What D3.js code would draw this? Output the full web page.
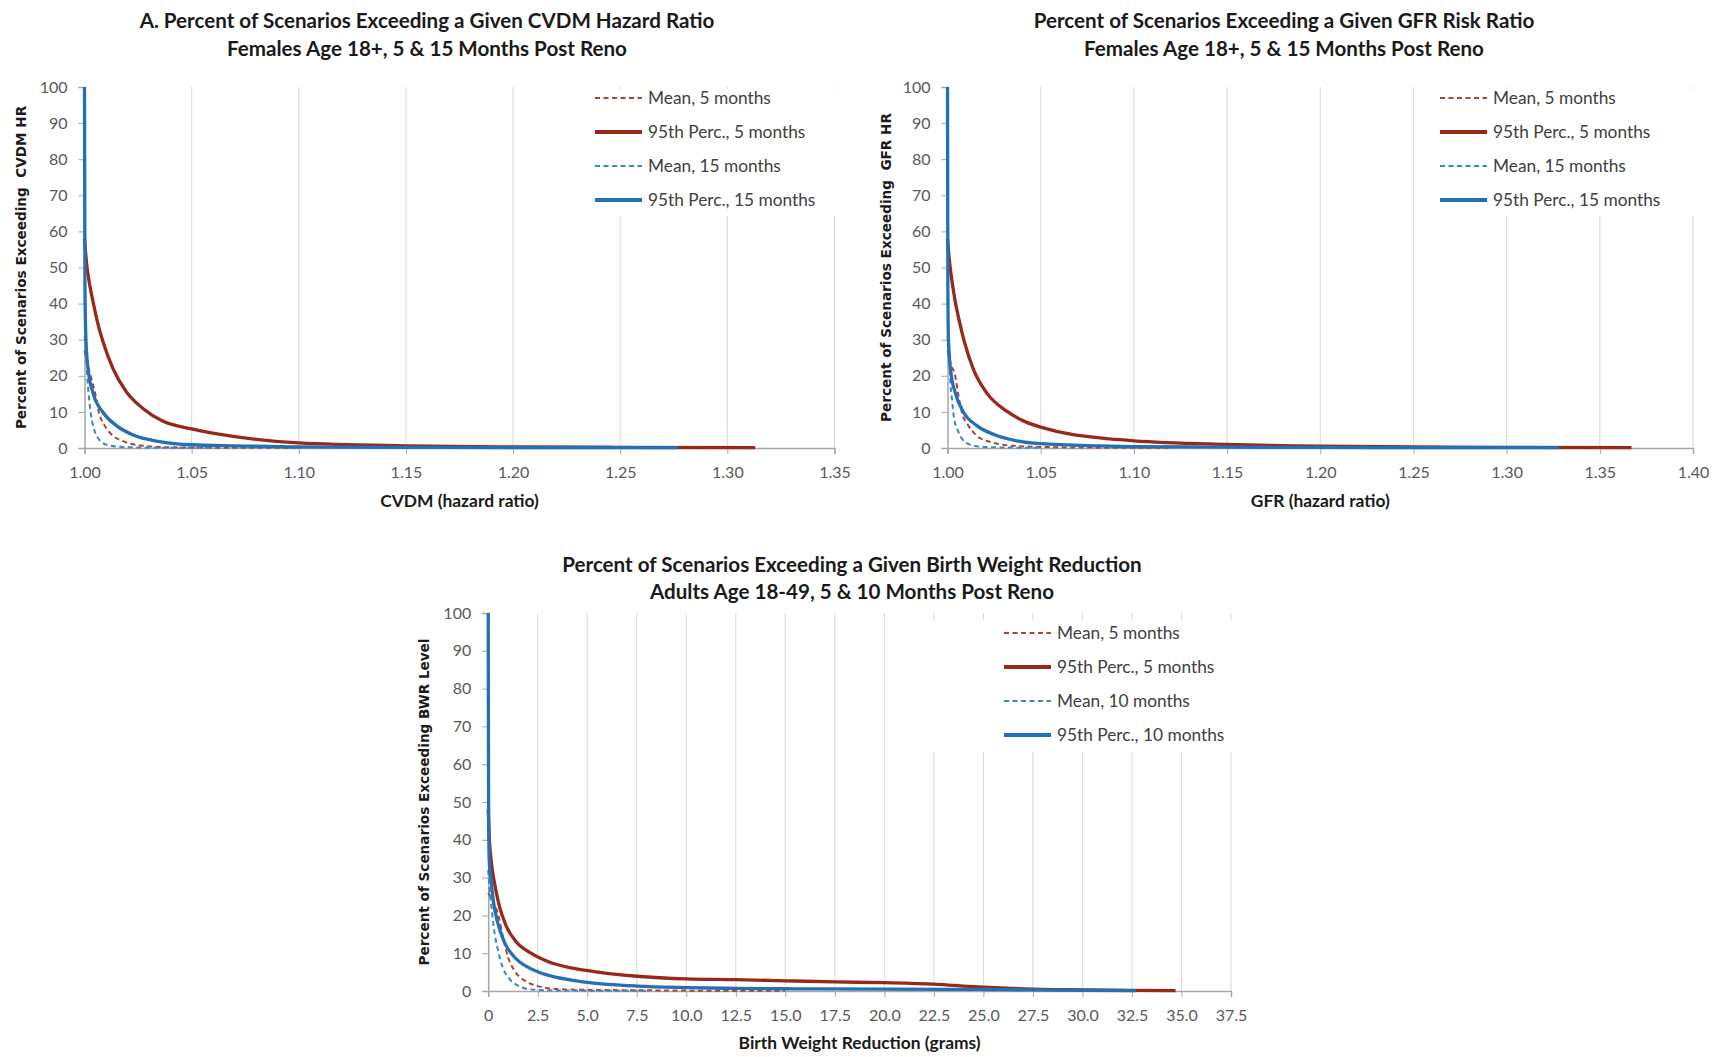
<!DOCTYPE html>
<html><head><meta charset="utf-8">
<script src="https://cdn.jsdelivr.net/npm/d3@7"></script>
<style>
body{margin:0;background:#fff;}
svg{display:block;}
text{white-space:pre;}
</style>
</head><body><svg id="c" width="1713" height="1057"></svg>
<script>
// ---------------- DATA ----------------
// Panel A: CVDM hazard ratio
const titleA = ["A. Percent of Scenarios Exceeding a Given CVDM Hazard Ratio", "Females Age 18+, 5 & 15 Months Post Reno"];
const xTicksA = [1.00, 1.05, 1.10, 1.15, 1.20, 1.25, 1.30, 1.35];
const legendA = ["Mean, 5 months", "95th Perc., 5 months", "Mean, 15 months", "95th Perc., 15 months"];
const A_mean5_x = [1.0, 1.0015, 1.0031, 1.0052, 1.0067, 1.0094, 1.0133, 1.018, 1.0274, 1.04, 1.06, 1.10];
const A_mean5_y = [27, 23, 19.5, 14.5, 9.9, 6.2, 3.4, 1.9, 0.6, 0.2, 0.1, 0.05];
const A_p95_5_x = [1.0, 1.001, 1.0022, 1.004, 1.006, 1.0086, 1.0133, 1.0195, 1.0274, 1.0367, 1.05, 1.071, 1.10, 1.15, 1.20, 1.25, 1.313];
const A_p95_5_y = [58, 51, 46, 40.5, 35, 29.5, 22, 15.6, 10.9, 7.4, 5.3, 3.1, 1.4, 0.6, 0.3, 0.2, 0.1];
const A_mean15_x = [1.0, 1.0007, 1.0013, 1.002, 1.0031, 1.0047, 1.007, 1.011, 1.018, 1.03, 1.06];
const A_mean15_y = [31, 28.3, 20, 14.5, 8.9, 4.8, 2.2, 0.8, 0.3, 0.1, 0.05];
const A_p95_15_x = [1.0, 1.0002, 1.0007, 1.0017, 1.0039, 1.0086, 1.0149, 1.0227, 1.035, 1.05, 1.071, 1.10, 1.15, 1.20, 1.277];
const A_p95_15_y = [100, 45, 29.5, 21.8, 15.4, 9.9, 6.2, 3.6, 1.8, 0.9, 0.6, 0.3, 0.2, 0.1, 0.1];

// Panel B: GFR risk ratio
const titleB = ["Percent of Scenarios Exceeding a Given GFR Risk Ratio", "Females Age 18+, 5 & 15 Months Post Reno"];
const xTicksB = [1.00, 1.05, 1.10, 1.15, 1.20, 1.25, 1.30, 1.35, 1.40];
const legendB = ["Mean, 5 months", "95th Perc., 5 months", "Mean, 15 months", "95th Perc., 15 months"];
const B_mean5_x = [1.0, 1.002, 1.0041, 1.0059, 1.0077, 1.0112, 1.0157, 1.0229, 1.0353, 1.05, 1.08, 1.12];
const B_mean5_y = [27, 23, 20, 14.5, 9.9, 6.2, 3.4, 1.7, 0.6, 0.3, 0.1, 0.05];
const B_p95_5_x = [1.0, 1.001, 1.0022, 1.004, 1.0062, 1.009, 1.0139, 1.0211, 1.0318, 1.0425, 1.05, 1.0675, 1.0817, 1.10, 1.15, 1.20, 1.25, 1.30, 1.367];
const B_p95_5_y = [58, 52, 47, 41, 35.5, 29.5, 21.8, 15.2, 10.2, 7.1, 5.8, 3.7, 2.8, 2.0, 1.0, 0.5, 0.3, 0.2, 0.1];
const B_mean15_x = [1.0, 1.0009, 1.0014, 1.0024, 1.0036, 1.0059, 1.0095, 1.0157, 1.025, 1.05];
const B_mean15_y = [31, 28.3, 20, 13.5, 8.0, 4.4, 1.6, 0.5, 0.2, 0.05];
const B_p95_15_x = [1.0, 1.0002, 1.0005, 1.0018, 1.0041, 1.0086, 1.0157, 1.0246, 1.0371, 1.05, 1.0817, 1.10, 1.15, 1.20, 1.25, 1.328];
const B_p95_15_y = [100, 45, 30, 21, 15.4, 9.9, 6.2, 3.8, 2.0, 1.2, 0.6, 0.4, 0.25, 0.15, 0.1, 0.1];

// Panel C: Birth weight reduction
const titleC = ["Percent of Scenarios Exceeding a Given Birth Weight Reduction", "Adults Age 18-49, 5 & 10 Months Post Reno"];
const xTicksC = [0, 2.5, 5.0, 7.5, 10.0, 12.5, 15.0, 17.5, 20.0, 22.5, 25.0, 27.5, 30.0, 32.5, 35.0, 37.5];
const xTickLabelsC = ["0", "2.5", "5.0", "7.5", "10.0", "12.5", "15.0", "17.5", "20.0", "22.5", "25.0", "27.5", "30.0", "32.5", "35.0", "37.5"];
const legendC = ["Mean, 5 months", "95th Perc., 5 months", "Mean, 10 months", "95th Perc., 10 months"];
const C_mean5_x = [0, 0.3, 0.48, 0.73, 0.98, 1.32, 1.82, 2.5, 3.5, 5, 7.5, 10, 15];
const C_mean5_y = [26, 23, 20.7, 14.6, 9.3, 5.4, 2.8, 1.3, 0.5, 0.3, 0.2, 0.1, 0.05];
const C_p95_5_x = [0, 0.06, 0.16, 0.32, 0.56, 0.90, 1.40, 2.16, 3.01, 4.19, 5.54, 7.5, 10, 12.5, 15, 17.5, 20, 22.5, 23.7, 25, 27.5, 30, 32.5, 34.7];
const C_p95_5_y = [48, 40, 34, 28.5, 22.5, 17.3, 13.1, 10.0, 7.8, 6.1, 5.0, 3.9, 3.2, 3.0, 2.7, 2.4, 2.2, 1.8, 1.4, 1.0, 0.5, 0.3, 0.15, 0.1];
const C_mean10_x = [0, 0.05, 0.14, 0.27, 0.48, 0.73, 1.07, 1.49, 2.0, 3, 5, 8];
const C_mean10_y = [32, 28, 23.4, 17.2, 11.1, 6.3, 3.2, 1.5, 0.5, 0.2, 0.1, 0.05];
const C_p95_10_x = [0, 0.02, 0.05, 0.14, 0.27, 0.48, 0.81, 1.32, 2.0, 2.5, 3.0, 4.19, 5.0, 7.5, 10, 12.5, 15, 20, 25, 27.5, 30, 32.7];
const C_p95_10_y = [100, 50, 34.7, 29.5, 23.4, 18.1, 13.0, 9.0, 6.3, 5.1, 4.2, 2.9, 2.3, 1.3, 0.9, 0.7, 0.6, 0.5, 0.4, 0.3, 0.2, 0.1];

const yTicks = [0, 10, 20, 30, 40, 50, 60, 70, 80, 90, 100];

// ---------------- STYLE / LAYOUT ----------------
const seriesStyle = [
  {color: "#B04232", width: 2, dash: "5,3.5"},
  {color: "#98281A", width: 3.3, dash: null},
  {color: "#3F86C6", width: 2, dash: "5,3.5"},
  {color: "#2270B5", width: 3.3, dash: null}
];
const zip = (xs, ys) => xs.map((v, i) => [v, ys[i]]);

const panels = [
  {
    title: titleA, xLabel: "CVDM (hazard ratio)", yLabel: "Percent of Scenarios Exceeding  CVDM HR",
    xTicks: xTicksA, xFmt: d => d.toFixed(2), legend: legendA,
    series: [zip(A_mean5_x, A_mean5_y), zip(A_p95_5_x, A_p95_5_y), zip(A_mean15_x, A_mean15_y), zip(A_p95_15_x, A_p95_15_y)],
    g: {l: 84.5, r: 834.5, t: 87, b: 448, titleX: 427, titleY: [28, 55.5], xTitleY: 507, yTitleX: 21,
        legX: 595, legY: 98, box: [565, 89, 840, 216]}
  },
  {
    title: titleB, xLabel: "GFR (hazard ratio)", yLabel: "Percent of Scenarios Exceeding  GFR HR",
    xTicks: xTicksB, xFmt: d => d.toFixed(2), legend: legendB,
    series: [zip(B_mean5_x, B_mean5_y), zip(B_p95_5_x, B_p95_5_y), zip(B_mean15_x, B_mean15_y), zip(B_p95_15_x, B_p95_15_y)],
    g: {l: 947.5, r: 1693, t: 87, b: 448, titleX: 1284, titleY: [28, 55.5], xTitleY: 507, yTitleX: 886,
        legX: 1440, legY: 98, box: [1425, 89, 1700, 216]}
  },
  {
    title: titleC, xLabel: "Birth Weight Reduction (grams)", yLabel: "Percent of Scenarios Exceeding BWR Level",
    xTicks: xTicksC, xFmt: (d, i) => xTickLabelsC[i], legend: legendC,
    series: [zip(C_mean5_x, C_mean5_y), zip(C_p95_5_x, C_p95_5_y), zip(C_mean10_x, C_mean10_y), zip(C_p95_10_x, C_p95_10_y)],
    g: {l: 488.2, r: 1231, t: 613, b: 991, titleX: 852, titleY: [572, 599], xTitleY: 1049, yTitleX: 424,
        legX: 1004, legY: 633, box: [925, 620, 1236, 752]}
  }
];

const svg = d3.select("#c");
svg.append("rect").attr("width", 1713).attr("height", 1057).attr("fill", "#fff");

panels.forEach(p => {
  const g = p.g;
  const gr = svg.append("g");
  const x = d3.scaleLinear().domain([p.xTicks[0], p.xTicks[p.xTicks.length - 1]]).range([g.l, g.r]);
  const y = d3.scaleLinear().domain([0, 100]).range([g.b, g.t]);

  // gridlines
  gr.append("g").selectAll("line").data(p.xTicks.slice(1)).join("line")
    .attr("x1", d => x(d)).attr("x2", d => x(d))
    .attr("y1", g.t).attr("y2", g.b)
    .attr("stroke", "#D9D9D9").attr("stroke-width", 1);

  // legend box (white background over gridlines)
  gr.append("rect").attr("x", g.box[0]).attr("y", g.box[1])
    .attr("width", g.box[2] - g.box[0]).attr("height", g.box[3] - g.box[1]).attr("fill", "#fff");

  // axes
  const xAxis = d3.axisBottom(x).tickValues(p.xTicks).tickFormat(p.xFmt).tickSize(6).tickPadding(13);
  const ax = gr.append("g").attr("transform", `translate(0,${g.b})`).call(xAxis);
  ax.select(".domain").attr("stroke", "#A6A6A6").attr("stroke-width", 1.5);
  ax.selectAll(".tick line").attr("stroke", "#A6A6A6");
  ax.selectAll("text").attr("fill", "#595959").style("font-family", "Lato").style("font-size", "16px");

  const yAxis = d3.axisLeft(y).tickValues(yTicks).tickSize(6).tickPadding(11);
  const ay = gr.append("g").attr("transform", `translate(${g.l},0)`).call(yAxis);
  ay.select(".domain").attr("stroke", "#A6A6A6").attr("stroke-width", 1.5);
  ay.selectAll(".tick line").attr("stroke", "#A6A6A6");
  ay.selectAll("text").attr("fill", "#595959").style("font-family", "Lato").style("font-size", "16px");

  // series
  const line = d3.line().x(d => x(d[0])).y(d => y(d[1])).curve(d3.curveMonotoneX);
  p.series.forEach((s, i) => {
    const st = seriesStyle[i];
    gr.append("path").datum(s).attr("d", line)
      .attr("fill", "none").attr("stroke", st.color).attr("stroke-width", st.width)
      .attr("stroke-dasharray", st.dash).attr("stroke-linejoin", "round");
  });

  // legend
  p.legend.forEach((lab, i) => {
    const st = seriesStyle[i];
    const ly = g.legY + i * 34;
    gr.append("line").attr("x1", g.legX).attr("x2", g.legX + 47).attr("y1", ly).attr("y2", ly)
      .attr("stroke", st.color).attr("stroke-width", st.dash ? 2 : 3.8).attr("stroke-dasharray", st.dash);
    gr.append("text").attr("x", g.legX + 53).attr("y", ly).attr("dy", "0.35em")
      .attr("fill", "#404040").style("font-family", "Lato").style("font-size", "17.3px").text(lab);
  });

  // titles
  p.title.forEach((t, i) => {
    gr.append("text").attr("x", g.titleX).attr("y", g.titleY[i]).attr("text-anchor", "middle")
      .attr("fill", "#1a1a1a").style("font-family", "Lato").style("font-weight", "bold").style("font-size", "20.6px").text(t);
  });
  gr.append("text").attr("x", (g.l + g.r) / 2).attr("y", g.xTitleY).attr("text-anchor", "middle")
    .attr("fill", "#1a1a1a").style("font-family", "Lato").style("font-weight", "bold").style("font-size", "17.4px").text(p.xLabel);
  gr.append("text").attr("transform", `translate(${g.yTitleX},${(g.t + g.b) / 2}) rotate(-90)`)
    .attr("text-anchor", "middle").attr("dy", "0.35em")
    .attr("fill", "#1a1a1a").style("font-family", "DejaVu Sans").style("font-weight", "bold").style("font-size", "13.6px").text(p.yLabel);
});
</script></body></html>
